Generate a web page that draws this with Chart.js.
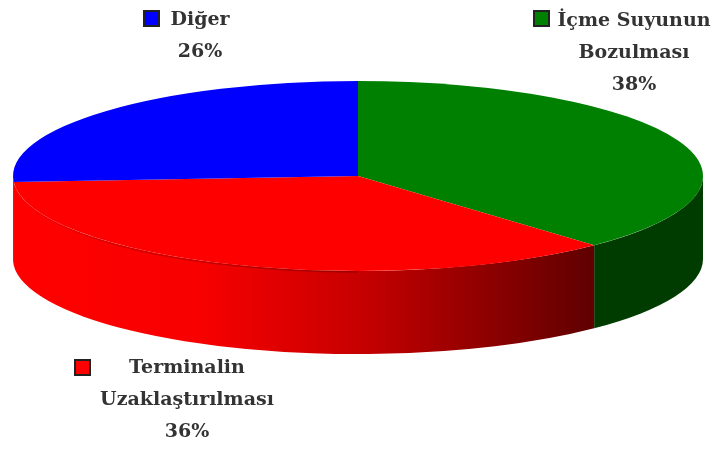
<!DOCTYPE html>
<html>
<head>
<meta charset="utf-8">
<style>
  html, body { margin: 0; padding: 0; background: #fff; }
  canvas { display: block; filter: blur(0.6px); }
</style>
<script src="https://cdn.jsdelivr.net/npm/chart.js@4/dist/chart.umd.min.js"></script>
</head>
<body>
<canvas id="pie3d" width="719" height="453"></canvas>
<script>
const categories = ['İçme Suyunun Bozulması', 'Terminalin Uzaklaştırılması', 'Diğer'];
const shares = [38, 36, 26];
const sliceColors = ['#008000', '#ff0000', '#0000ff'];
const labelLines = [['İçme Suyunun', 'Bozulması'], ['Terminalin', 'Uzaklaştırılması'], ['Diğer']];

// where the tilted disc sits on the page
const disc = { x: 358, y: 176, rx: 345, ry: 95, depth: 83 };
const baseRadius = 200;

// label block per slice: centre x, first line y, and the little legend square
const labelPos = [
    { x: 634, y: 21, lineGap: 32, boxX: 534, boxY: 11 },
    { x: 187, y: 368, lineGap: 32, boxX: 75, boxY: 360 },
    { x: 200, y: 20, lineGap: 32, boxX: 144, boxY: 11 }
];

function wallFill(ctx, index) {
    const g = ctx.createLinearGradient(disc.x - disc.rx, 0, disc.x + disc.rx, 0);
    if (index === 1) {
        g.addColorStop(0, '#ff0000');
        g.addColorStop(0.27, '#f80000');
        g.addColorStop(0.5, '#c80000');
        g.addColorStop(0.66, '#960000');
        g.addColorStop(0.84, '#600000');
        g.addColorStop(1, '#600000');
    } else {
        g.addColorStop(0, '#003c00');
        g.addColorStop(1, '#003c00');
    }
    return g;
}

const tiltPlugin = {
    id: 'tilt',
    beforeDatasetsDraw(chart) {
        const ctx = chart.ctx;
        const arcs = chart.getDatasetMeta(0).data;

        // side wall, only the front half of the disc shows
        arcs.forEach((arc, i) => {
            const start = Math.max(arc.startAngle, 0);
            const end = Math.min(arc.endAngle, Math.PI);
            if (end <= start) return;
            ctx.beginPath();
            ctx.ellipse(disc.x, disc.y, disc.rx, disc.ry, 0, start, end);
            ctx.ellipse(disc.x, disc.y + disc.depth, disc.rx, disc.ry, 0, end, start, true);
            ctx.closePath();
            ctx.fillStyle = wallFill(ctx, i);
            ctx.fill();
        });

        // squash the normal pie into the top face
        const c = arcs[0];
        ctx.save();
        ctx.translate(disc.x, disc.y);
        ctx.scale(disc.rx / baseRadius, disc.ry / baseRadius);
        ctx.translate(-c.x, -c.y);
    },
    afterDatasetsDraw(chart) {
        const ctx = chart.ctx;
        ctx.restore();

        // darker rim under the top face, fades out towards the left
        const rim = ctx.createLinearGradient(disc.x - disc.rx, 0, disc.x, 0);
        rim.addColorStop(0, 'rgba(190,0,0,0)');
        rim.addColorStop(0.2, 'rgba(190,0,0,0.5)');
        rim.addColorStop(1, 'rgba(150,0,0,0.9)');
        ctx.beginPath();
        ctx.ellipse(disc.x, disc.y + 1, disc.rx, disc.ry, 0, Math.PI / 2, Math.PI);
        ctx.strokeStyle = rim;
        ctx.lineWidth = 1.5;
        ctx.stroke();

        ctx.font = 'bold 19px "DejaVu Serif"';
        ctx.textAlign = 'center';
        ctx.textBaseline = 'middle';
        labelPos.forEach((pos, i) => {
            ctx.fillStyle = sliceColors[i];
            ctx.strokeStyle = '#222222';
            ctx.lineWidth = 2;
            ctx.fillRect(pos.boxX, pos.boxY, 15, 15);
            ctx.strokeRect(pos.boxX, pos.boxY, 15, 15);

            ctx.fillStyle = '#333333';
            const lines = labelLines[i].concat(shares[i] + '%');
            lines.forEach((line, n) => {
                ctx.fillText(line, pos.x, pos.y + n * pos.lineGap);
            });
        });
    }
};

new Chart(document.getElementById('pie3d'), {
    type: 'pie',
    data: {
        labels: categories,
        datasets: [{
            data: shares,
            backgroundColor: sliceColors,
            borderWidth: 0
        }]
    },
    options: {
        responsive: false,
        animation: false,
        radius: baseRadius,
        plugins: {
            legend: { display: false },
            tooltip: { enabled: false }
        }
    },
    plugins: [tiltPlugin]
});
</script>
</body>
</html>
